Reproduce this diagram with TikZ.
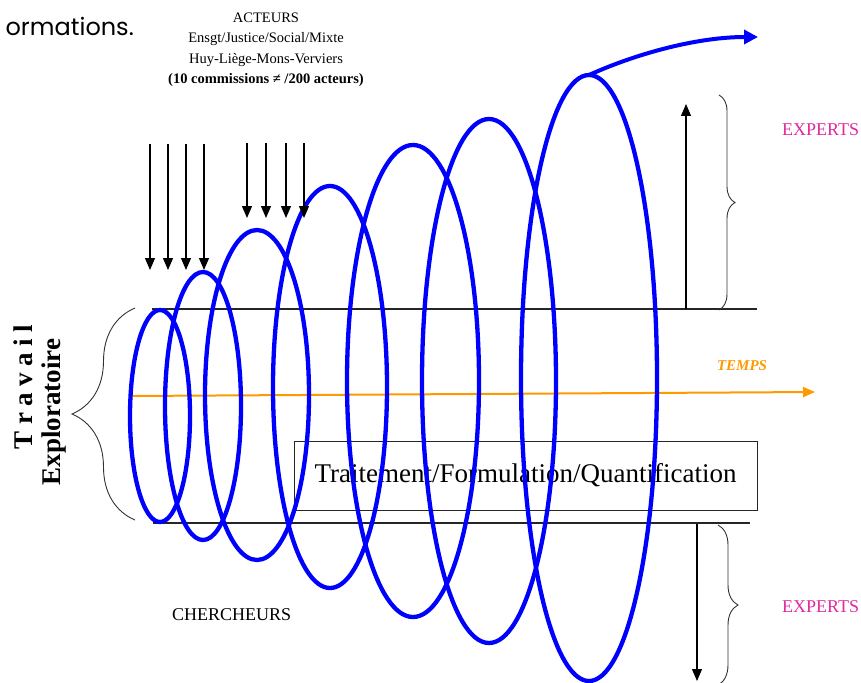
\documentclass[tikz,border=0pt]{standalone}
\usepackage{fontspec}
\setmainfont{Liberation Serif}
\newfontfamily\gothicfont{Poppins}
\usetikzlibrary{arrows.meta,decorations.pathreplacing}
\definecolor{coilblue}{RGB}{0,0,255}
\definecolor{tempsorange}{RGB}{255,153,0}
\definecolor{expertpink}{RGB}{225,40,160}

\begin{document}
\begin{tikzpicture}[x=1pt, y=-1pt,
  coil/.style={draw=coilblue, line width=4.3pt},
  feed/.style={-{Triangle[width=10pt,length=12pt]}, line width=1.2pt},
  level/.style={line width=1.1pt, draw=black!85},
  lbl/.style={inner sep=0pt, font=\fontsize{18}{20}\selectfont},
  expert/.style={lbl, text=expertpink, anchor=west},
  curly/.style={decorate, decoration={brace, amplitude=#1}, line width=0.9pt, draw=black!80}
]
\useasboundingbox (0,0) rectangle (861,682);

\node[font=\gothicfont\fontsize{24}{28}\selectfont, anchor=base east, inner sep=0pt] (intro) at (134,36) {ormations.};
\node[align=center, inner sep=0pt, anchor=north, font=\fontsize{14.5}{20.5}\selectfont] (acteurs) at (266,12.4)
  {ACTEURS\\Ensgt/Justice/Social/Mixte\\Huy-Liège-Mons-Verviers\\\textbf{(10 commissions ≠ /200 acteurs)}};

\node[draw, line width=0.9pt, draw=black!85, minimum width=463pt, minimum height=69pt, inner sep=0pt,
      font=\fontsize{27}{30}\selectfont] (traitement) at (525.5,475.5) {Traitement/Formulation/Quantification};

\coordinate (topL) at (152,309); \coordinate (topR) at (757,309);
\coordinate (botL) at (153,523); \coordinate (botR) at (750,523);
\draw[level] (topL) -- (topR);
\draw[level] (botL) -- (botR);

\coordinate (t0) at (130,396); \coordinate (t1) at (815,392);
\draw[tempsorange, line width=2pt, -{Triangle[width=10pt,length=12pt]}] (t0) -- (t1);
\node[text=tempsorange, font=\bfseries\itshape\fontsize{15}{17}\selectfont, inner sep=0pt] (temps) at (742,366) {TEMPS};

\foreach \cx/\cy/\a/\b in {160/416/30/106, 203/406/38/134, 257/395/52/165, 330/387/57/201,
                           413/381/66/236, 489/381/67/262, 589/378/68/303}
  \draw[coil] (\cx,\cy) ellipse [x radius=\a, y radius=\b];
\coordinate (coiltop) at (589,75); \coordinate (coilend) at (758,37);
\draw[coil, line width=4pt, -{Triangle[width=14pt,length=14pt]}] (coiltop) .. controls (640,52) and (700,37) .. (coilend);

\foreach \x [count=\k] in {150,168,186,204}{
  \coordinate (fa\k) at (\x,144); \coordinate (fb\k) at (\x,270);
  \draw[feed] (fa\k) -- (fb\k);}
\foreach \x [count=\k] in {247,266,286,304}{
  \coordinate (ga\k) at (\x,143); \coordinate (gb\k) at (\x,218);
  \draw[feed] (ga\k) -- (gb\k);}

\coordinate (upS) at (686,309); \coordinate (upE) at (686,104);
\draw[feed] (upS) -- (upE);
\coordinate (dnS) at (697,524); \coordinate (dnE) at (697,681);
\draw[feed] (dnS) -- (dnE);

\draw[curly=63] (135,520) -- (135,308);
\draw[curly=16] (719,95) -- (719,310);
\draw[curly=20] (718,525) -- (718,685);

\node[expert] (expertsup) at (782,130) {EXPERTS};
\node[expert] (expertsdn) at (782,607) {EXPERTS};
\node[lbl, anchor=west] (chercheurs) at (172,615) {CHERCHEURS};

\node[rotate=90, anchor=base, inner sep=0pt, font=\bfseries\fontsize{27}{30}\selectfont] (travail) at (32,387)
  {\makebox[124pt][s]{T\hfil r\hfil a\hfil v\hfil a\hfil i\hfil l}};
\node[rotate=90, anchor=base, inner sep=0pt, font=\bfseries\fontsize{27}{30}\selectfont] (explo) at (60,412) {Exploratoire};
\end{tikzpicture}
\end{document}
